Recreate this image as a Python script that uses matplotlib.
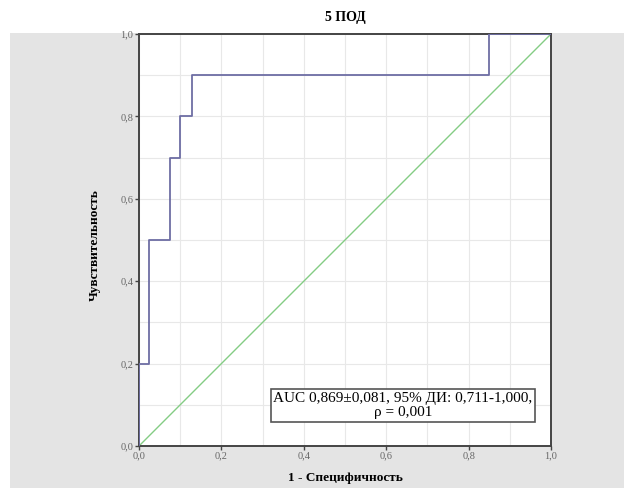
import matplotlib.pyplot as plt
from matplotlib.patches import Rectangle

# ROC curve points (1 - specificity, sensitivity)
fpr = [0.0, 0.0, 0.025, 0.025, 0.075, 0.075, 0.1, 0.1, 0.128, 0.128, 0.85, 0.85, 1.0]
tpr = [0.0, 0.2, 0.2, 0.5, 0.5, 0.7, 0.7, 0.8, 0.8, 0.9, 0.9, 1.0, 1.0]
ref_line = [0.0, 1.0]
ticks = [0.0, 0.2, 0.4, 0.6, 0.8, 1.0]
tick_labels = ["0,0", "0,2", "0,4", "0,6", "0,8", "1,0"]
grid_ticks = [i / 10 for i in range(11)]

title = "5 ПОД"
xlabel = "1 - Специфичность"
ylabel = "Чувствительность"
note = "AUC 0,869±0,081, 95% ДИ: 0,711-1,000,\nρ = 0,001"

plt.rcParams['font.family'] = ['Liberation Serif', 'DejaVu Serif']

fig = plt.figure(figsize=(6.24, 4.91), dpi=100)
fig.patches.append(Rectangle((10 / 624, 3 / 491), 614 / 624, 455 / 491,
                             transform=fig.transFigure, facecolor='#e4e4e4',
                             edgecolor='none', zorder=-10))

ax = fig.add_axes([139 / 624, 45 / 491, 412 / 624, 412 / 491])
ax.set_zorder(1)
ax.set_facecolor('white')
ax.set_xlim(0, 1)
ax.set_ylim(0, 1)

for g in grid_ticks:
    ax.axvline(g, color='#e8e8e8', lw=0.8, zorder=0)
    ax.axhline(g, color='#e8e8e8', lw=0.8, zorder=0)

ax.plot(ref_line, ref_line, color='#84cc84', lw=1.0, zorder=2)
ax.plot(fpr, tpr, color='#6e6ea4', lw=1.3, zorder=3)

ax.set_xticks(ticks)
ax.set_xticklabels(tick_labels)
ax.set_yticks(ticks)
ax.set_yticklabels(tick_labels)
ax.tick_params(direction='out', length=3, width=1, labelsize=7.5,
               labelcolor='#666666', color='#444444', pad=1)
for s in ax.spines.values():
    s.set_color('#444444')
    s.set_linewidth(1.4)

fig.text(345 / 624, 1 - 18 / 491, title, ha='center', va='center',
         fontsize=10, fontweight='bold')
fig.text(345 / 624, 1 - 478 / 491, xlabel, ha='center', va='center',
         fontsize=9.5, fontweight='bold')
fig.text(95 / 624, 1 - 245 / 491, ylabel, ha='center', va='center',
         rotation=90, fontsize=9.5, fontweight='bold')

ax.text(0.641, 0.098, note, ha='center', va='center', fontsize=11,
        linespacing=1.1, zorder=5,
        bbox=dict(boxstyle='square,pad=0.18', facecolor='white',
                  edgecolor='#555555', lw=1.2))

fig.savefig('out.png', dpi=100)
